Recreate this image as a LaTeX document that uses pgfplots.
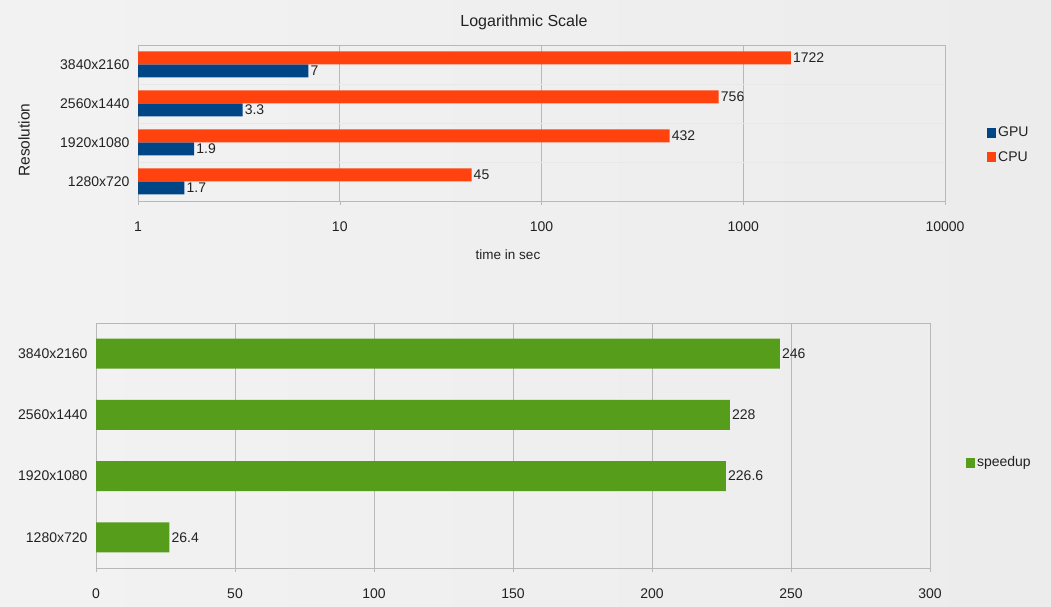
\documentclass[border=0pt]{standalone}
\usepackage{pgfplots}
\pgfplotsset{compat=1.18}
\usepackage{fontspec}
\setmainfont{Liberation Sans}

\definecolor{gpublue}{HTML}{004586}
\definecolor{cpuorange}{HTML}{FF420E}
\definecolor{speedgreen}{HTML}{579D1C}
\definecolor{gridgray}{HTML}{B8B8B8}
\definecolor{labeltext}{HTML}{222222}

\newcommand{\ticksize}{\fontsize{14}{16}\selectfont}

\pgfplotsset{
  resbars/.style={
    scale only axis,
    xbar,
    ymin=-0.5, ymax=3.5,
    ytick={0,1,2,3},
    yticklabels={1280x720,1920x1080,2560x1440,3840x2160},
    axis line style={gridgray},
    xmajorgrids,
    major grid style={gridgray, line width=0.6pt},
    tick style={gridgray},
    ytick style={draw=none},
    xtick pos=bottom,
    tick align=outside,
    major tick length=4pt,
    tick label style={font=\ticksize, text=labeltext},
    xticklabel style={yshift=-13pt},
    yticklabel style={xshift=-1pt},
    /pgf/number format/assume math mode=true,
    nodes near coords,
    point meta=explicit symbolic,
    every node near coord/.append style={font=\ticksize, text=labeltext, anchor=west, inner sep=2pt},
    legend style={draw=none, fill=none, font=\ticksize, text=labeltext, anchor=west,
      inner sep=0pt, row sep=9pt},
    legend cell align=left,
    legend image code/.code={\fill[##1] (0pt,-5pt) rectangle (9pt,5pt);},
  },
}

\begin{document}
\begin{tikzpicture}[x=1pt,y=1pt]
  % page background
  \shade[left color=gray!10, middle color=gray!3, right color=gray!15] (0,0) rectangle (1051,606);
  \useasboundingbox (0,0) rectangle (1051,606);

  % run times, logarithmic
  \begin{axis}[
    resbars,
    at={(138pt,405pt)}, anchor=south west,
    width=807pt, height=156pt,
    xmode=log, log basis x=10,
    xmin=1, xmax=10000,
    xtick={1,10,100,1000,10000},
    xticklabels={1,10,100,1000,10000},
    minor ytick={0.5,1.5,2.5},
    yminorgrids,
    minor grid style={gray!18, line width=0.5pt},
    bar width=13pt,
    legend style={at={(1.052,0.36)}},
  ]
    \addplot[fill=gpublue, draw=none, bar shift=-6.5pt]
      coordinates {(1.7,0) [1.7] (1.9,1) [1.9] (3.3,2) [3.3] (7,3) [7]};
    \addlegendentry{GPU}
    \addplot[fill=cpuorange, draw=none, bar shift=6.5pt]
      coordinates {(45,0) [45] (432,1) [432] (756,2) [756] (1722,3) [1722]};
    \addlegendentry{CPU}
  \end{axis}

  \node[font=\fontsize{16}{19}\selectfont, text=labeltext] at (524,584) {Logarithmic Scale};
  \node[font=\fontsize{13.5}{16}\selectfont, text=labeltext] at (508,351) {time in sec};
  \node[font=\fontsize{15.5}{18}\selectfont, text=labeltext, rotate=90] at (24,466) {Resolution};

  % speedup, linear
  \begin{axis}[
    resbars,
    at={(96pt,38pt)}, anchor=south west,
    width=834pt, height=245pt,
    xmin=0, xmax=300,
    xtick={0,50,100,150,200,250,300},
    bar width=30pt,
    legend style={at={(1.043,0.43)}},
  ]
    \addplot[fill=speedgreen, draw=none, bar shift=0pt]
      coordinates {(26.4,0) [26.4] (226.6,1) [226.6] (228,2) [228] (246,3) [246]};
    \addlegendentry{speedup}
  \end{axis}
\end{tikzpicture}
\end{document}
